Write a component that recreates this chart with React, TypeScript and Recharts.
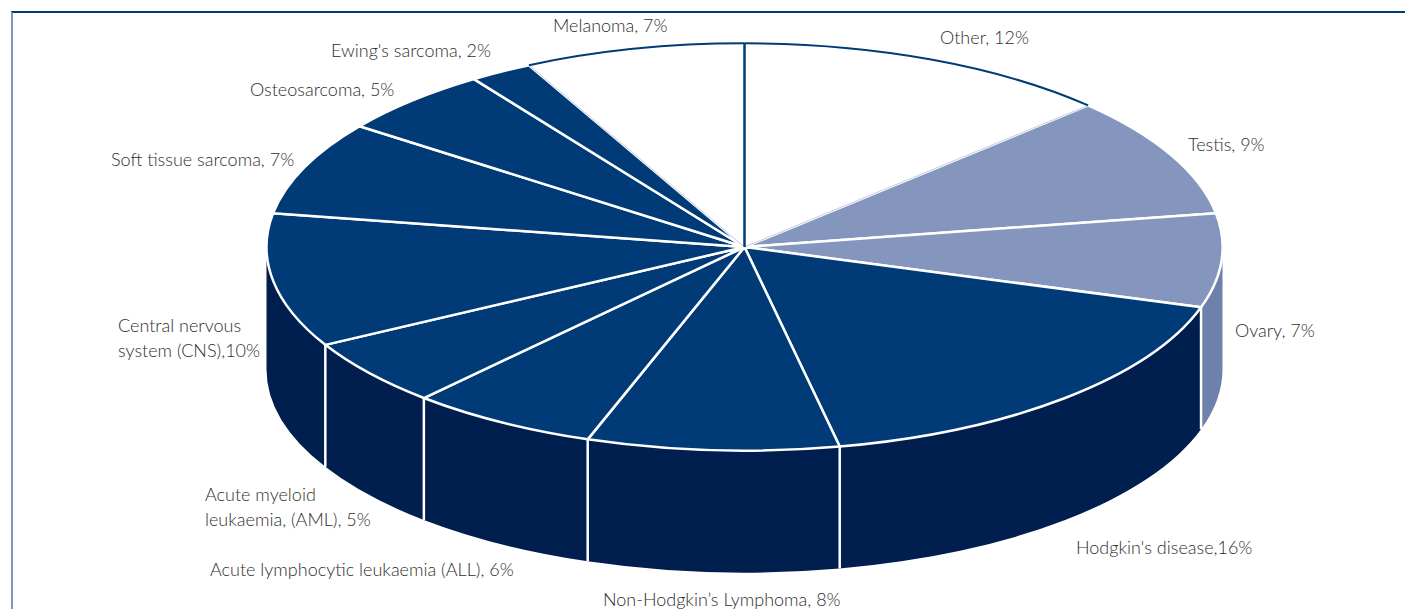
import React from "react";
import { Pie, PieChart } from "recharts";

const WIDTH = 1405;
const HEIGHT = 609;

const categories = [
  "Other",
  "Testis",
  "Ovary",
  "Hodgkin's disease",
  "Non-Hodgkin's Lymphoma",
  "Acute lymphocytic leukaemia (ALL)",
  "Acute myeloid leukaemia (AML)",
  "Central nervous system (CNS)",
  "Soft tissue sarcoma",
  "Osteosarcoma",
  "Ewing's sarcoma",
  "Melanoma"
];
const shares = [12, 9, 7, 16, 8, 6, 5, 10, 7, 5, 2, 7];
const labelLines = [
  ["Other, 12%"],
  ["Testis, 9%"],
  ["Ovary, 7%"],
  ["Hodgkin's disease,16%"],
  ["Non-Hodgkin’s Lymphoma, 8%"],
  ["Acute lymphocytic leukaemia (ALL), 6%"],
  ["Acute myeloid", "leukaemia, (AML), 5%"],
  ["Central nervous", "system (CNS),10%"],
  ["Soft tissue sarcoma, 7%"],
  ["Osteosarcoma, 5%"],
  ["Ewing's sarcoma, 2%"],
  ["Melanoma, 7%"]
];

// where each label's first line starts
const labelAnchors = [
  [940, 44],
  [1188, 151],
  [1235, 337],
  [1076, 554],
  [603, 606],
  [210, 576],
  [205, 501],
  [118, 332],
  [111, 166],
  [250, 96],
  [331, 57],
  [553, 32]
];

const NAVY = "#003b78";
const tops = [
  "#ffffff", "#8496bd", "#8496bd", NAVY, NAVY, NAVY,
  NAVY, NAVY, NAVY, NAVY, NAVY, "#ffffff"
];
const sides = [
  "#ffffff", "#6e81ad", "#6e81ad", "#001e4e", "#001e4e", "#001e4e",
  "#001e4e", "#001e4e", "#001e4e", "#001e4e", "#001e4e", "#ffffff"
];

const rows = categories.map((name, i) => ({
  name,
  value: shares[i],
  fill: tops[i],
  side: sides[i]
}));

const CX = 744.5;
const CY = 247;
const RADIUS = 478;
const SQUASH = 0.426;
const DEPTH = 122;

// Recharts hands out circular sectors, these flatten them onto the tilted disc
const rim = (cx: number, cy: number, r: number, deg: number) => {
  const a = (deg * Math.PI) / 180;
  return [cx + r * Math.cos(a), cy - r * SQUASH * Math.sin(a)];
};

function Top(props: any) {
  const { cx, cy, outerRadius: r, startAngle, endAngle, fill } = props;
  const [x1, y1] = rim(cx, cy, r, startAngle);
  const [x2, y2] = rim(cx, cy, r, endAngle);
  const big = Math.abs(startAngle - endAngle) > 180 ? 1 : 0;
  return (
    <path
      d={`M${cx} ${cy}L${x1} ${y1}A${r} ${r * SQUASH} 0 ${big} 1 ${x2} ${y2}Z`}
      fill={fill}
      stroke={fill === "#ffffff" ? "none" : "#ffffff"}
      strokeWidth={2.5}
      strokeLinejoin="round"
    />
  );
}

// Extruded outer wall, only the front half of the disc can be seen
function Wall(props: any) {
  const { cx, cy, outerRadius: r, startAngle, endAngle } = props;
  const side = props.side ?? props.payload?.side;
  const from = Math.min(startAngle, 0);
  const to = Math.max(endAngle, -180);
  if (from <= to) return <g />;
  const [x1, y1] = rim(cx, cy, r, from);
  const [x2, y2] = rim(cx, cy, r, to);
  return (
    <path
      d={`M${x1} ${y1}A${r} ${r * SQUASH} 0 0 1 ${x2} ${y2}L${x2} ${y2 + DEPTH}A${r} ${r * SQUASH} 0 0 0 ${x1} ${y1 + DEPTH}Z`}
      fill={side}
    />
  );
}

// Seams on the wall, plus the dark rim and faint edge of the two unfilled slices
function Outline(props: any) {
  const { cx, cy, outerRadius: r, startAngle, endAngle, fill } = props;
  const [x1, y1] = rim(cx, cy, r, startAngle);
  const [x2, y2] = rim(cx, cy, r, endAngle);
  const showSeam = endAngle > -180 && endAngle < 0;
  if (fill !== "#ffffff") {
    return showSeam ? (
      <line x1={x2} y1={y2} x2={x2} y2={y2 + DEPTH} stroke="#ffffff" strokeWidth={2.5} />
    ) : (
      <g />
    );
  }
  const inner = startAngle === 90 ? [x2, y2] : [x1, y1];
  return (
    <g fill="none">
      <line x1={cx} y1={cy} x2={inner[0]} y2={inner[1]} stroke="#c3cde0" strokeWidth={1} />
      <path d={`M${x1} ${y1}A${r} ${r * SQUASH} 0 0 1 ${x2} ${y2}`} stroke={NAVY} strokeWidth={2} />
      <line x1={cx} y1={cy} x2={cx} y2={cy - r * SQUASH} stroke={NAVY} strokeWidth={2} />
    </g>
  );
}

function SliceLabel(props: any) {
  const [x, y] = labelAnchors[props.index];
  return (
    <text
      x={x}
      y={y}
      fill="#2e2e2e"
      fontFamily="Lato, 'Open Sans', sans-serif"
      fontWeight={300}
      fontSize={18}
    >
      {labelLines[props.index].map((line, i) => (
        <tspan key={line} x={x} dy={i === 0 ? 0 : 25}>
          {line}
        </tspan>
      ))}
    </text>
  );
}

const pieProps = {
  data: rows,
  dataKey: "value",
  nameKey: "name",
  cx: CX,
  cy: CY,
  outerRadius: RADIUS,
  startAngle: 90,
  endAngle: -270,
  paddingAngle: 0,
  isAnimationActive: false
};

export default function App() {
  return (
    <div style={{ position: "absolute", left: 0, top: 0, width: WIDTH, height: HEIGHT, overflow: "hidden", background: "#fff" }}>
      <div style={{ position: "absolute", left: 11, top: 11, right: 0, bottom: 0, borderTop: "2px solid #003b75", borderLeft: "2px solid #7d96bd" }} />
      <PieChart
        width={WIDTH}
        height={HEIGHT}
        margin={{ top: 0, right: 0, bottom: 0, left: 0 }}
        style={{ position: "absolute", left: 0, top: 0 }}
      >
        <Pie {...pieProps} shape={Wall} label={false} />
        <Pie {...pieProps} shape={Top} label={false} />
        <Pie {...pieProps} shape={Outline} label={SliceLabel} labelLine={false} />
      </PieChart>
    </div>
  );
}
